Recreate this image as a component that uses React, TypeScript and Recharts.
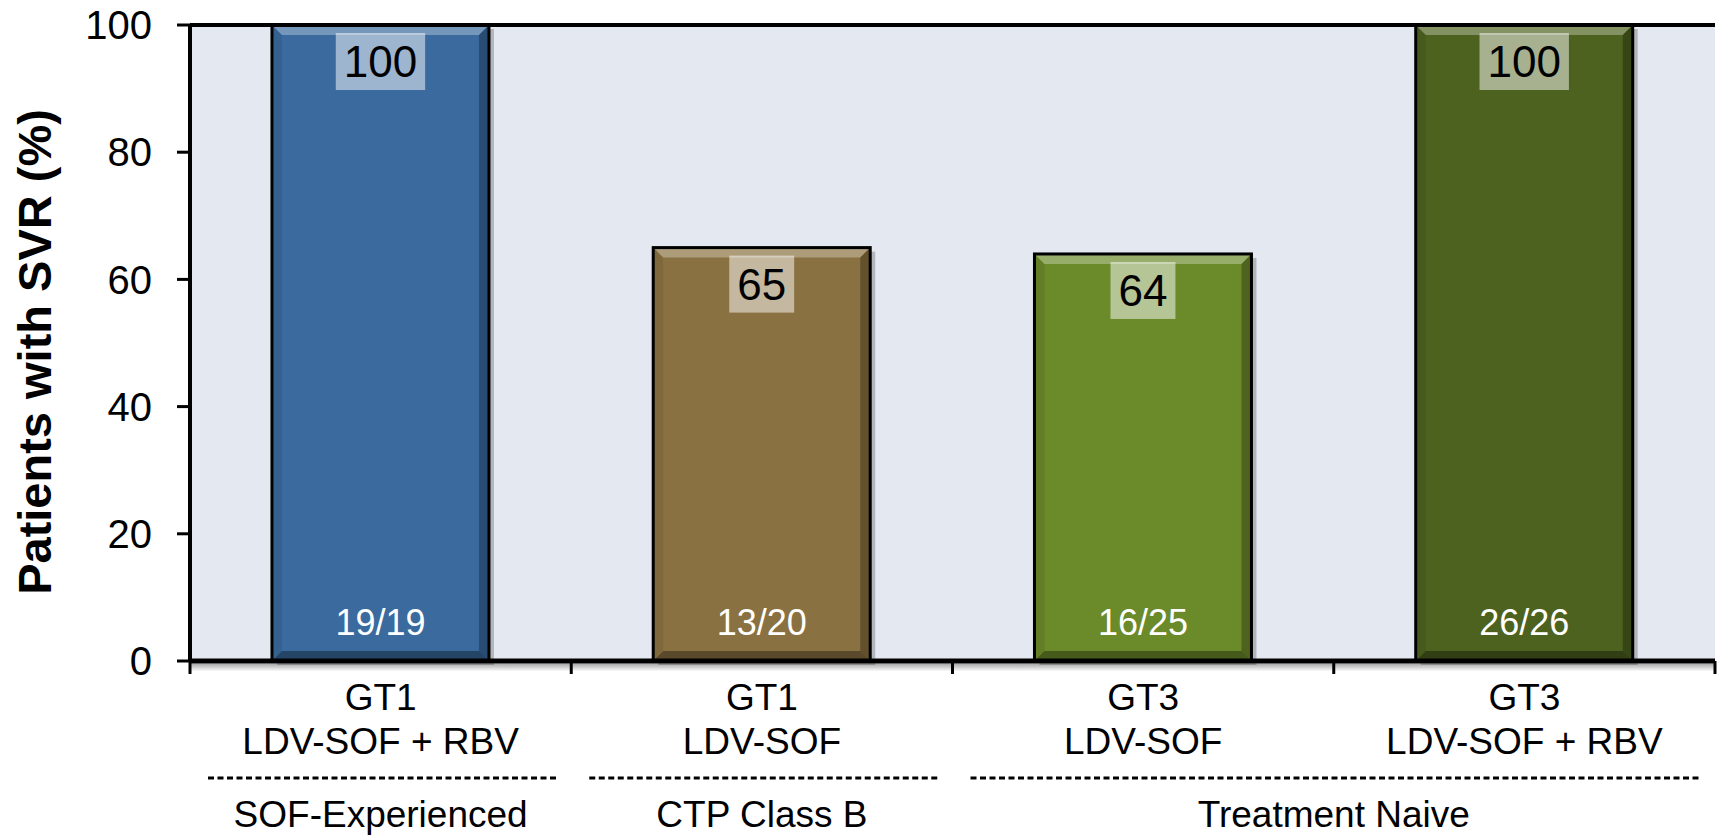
import React from 'react';
import { BarChart, Bar, XAxis, YAxis, CartesianGrid, ReferenceLine, LabelList, Cell } from 'recharts';

// ---- data ----
const genotypes = ['GT1', 'GT1', 'GT3', 'GT3'];
const regimens = ['LDV-SOF + RBV', 'LDV-SOF', 'LDV-SOF', 'LDV-SOF + RBV'];
const svrPercent = [100, 65, 64, 100];
const responders = ['19/19', '13/20', '16/25', '26/26'];
const groupLabels = ['SOF-Experienced', 'CTP Class B', 'Treatment Naive'];
const groupFirstIndex = [0, 1, 2];
const groupSize = [1, 1, 2];
const yTicks = [0, 20, 40, 60, 80, 100];
const yTitle = 'Patients with SVR (%)';

// ---- styles / layout ----
const barColors = ['#3A6A9E', '#8A7141', '#6B8A2A', '#4E6220'];
const W = 1717;
const H = 837;
const M_TOP = 25;
const M_RIGHT = 2;
const Y_W = 190;
const X_H = 176;
const PLOT_L = Y_W;
const PLOT_R = W - M_RIGHT;
const PLOT_B = H - X_H;
const BW = (PLOT_R - PLOT_L) / genotypes.length;
const FONT = '"Liberation Sans", Arial, sans-serif';

const data = genotypes.map((g, i) => ({
  id: i,
  genotype: g,
  regimen: regimens[i],
  svr: svrPercent[i],
  n: responders[i],
}));

const BevelBar = (props: any) => {
  const { x, y, width, height, fill } = props;
  if (width == null || height == null || height <= 0) return null;
  const b = 10;
  const x2 = x + width;
  const y2 = y + height;
  return (
    <g>
      <rect x={x + 5} y={y + 4} width={width} height={height} fill="rgba(0,0,0,0.22)" />
      <rect x={x} y={y} width={width} height={height} fill={fill} />
      <polygon points={`${x},${y} ${x2},${y} ${x2 - b},${y + b} ${x + b},${y + b}`} fill="rgba(255,255,255,0.3)" />
      <polygon points={`${x2},${y} ${x2},${y2} ${x2 - b},${y2 - b} ${x2 - b},${y + b}`} fill="rgba(0,0,0,0.28)" />
      <polygon points={`${x},${y2} ${x2},${y2} ${x2 - b},${y2 - b} ${x + b},${y2 - b}`} fill="rgba(0,0,0,0.35)" />
      <polygon points={`${x},${y} ${x + b},${y + b} ${x + b},${y2 - b} ${x},${y2}`} fill="rgba(0,0,0,0.08)" />
      <rect x={x} y={y} width={width} height={height} fill="none" stroke="#000" strokeWidth={3} />
    </g>
  );
};

const ValueLabel = (props: any) => {
  const { x, y, width, value } = props;
  const s = String(value);
  const fs = 44;
  const tw = s.length * 0.556 * fs;
  const bw = tw + 16;
  const bh = 57;
  const cx = x + width / 2;
  const top = y + 8;
  return (
    <g>
      <rect x={cx - bw / 2} y={top} width={bw} height={bh} fill="rgba(255,255,255,0.5)" />
      <text x={cx} y={top + bh / 2 + fs * 0.358} textAnchor="middle" fontSize={fs} fontFamily={FONT} fill="#000">
        {s}
      </text>
    </g>
  );
};

const CountLabel = (props: any) => {
  const { x, width, value } = props;
  return (
    <text x={x + width / 2} y={PLOT_B - 26} textAnchor="middle" fontSize={36} fontFamily={FONT} fill="#fff">
      {value}
    </text>
  );
};

const CatTick = (props: any) => {
  const { x, index } = props;
  const i = index as number;
  const fs = 37;
  const gi = groupFirstIndex.indexOf(i);
  const isLast = i === genotypes.length - 1;
  return (
    <g>
      {i === 0 && (
        <g>
          <defs>
            <linearGradient id="axShadow" x1="0" y1="0" x2="0" y2="1">
              <stop offset="0%" stopColor="#000" stopOpacity={0.35} />
              <stop offset="100%" stopColor="#000" stopOpacity={0} />
            </linearGradient>
          </defs>
          <rect x={PLOT_L} y={PLOT_B + 2.5} width={PLOT_R - PLOT_L} height={8} fill="url(#axShadow)" />
        </g>
      )}
      <line x1={x - BW / 2} x2={x - BW / 2} y1={PLOT_B} y2={PLOT_B + 13} stroke="#000" strokeWidth={3} />
      {isLast && <line x1={x + BW / 2} x2={x + BW / 2} y1={PLOT_B} y2={PLOT_B + 13} stroke="#000" strokeWidth={3} />}
      <text x={x} y={710} textAnchor="middle" fontSize={fs} fontFamily={FONT} fill="#000">
        {genotypes[i]}
      </text>
      <text x={x} y={754} textAnchor="middle" fontSize={fs} fontFamily={FONT} fill="#000">
        {regimens[i]}
      </text>
      {gi >= 0 && (
        <g>
          <line
            x1={x - BW / 2 + 18}
            x2={x - BW / 2 + groupSize[gi] * BW - 14}
            y1={778}
            y2={778}
            stroke="#000"
            strokeWidth={3}
            strokeDasharray="6 3.5"
          />
          <text
            x={x - BW / 2 + (groupSize[gi] * BW) / 2}
            y={827}
            textAnchor="middle"
            fontSize={fs}
            fontFamily={FONT}
            fill="#000"
          >
            {groupLabels[gi]}
          </text>
        </g>
      )}
    </g>
  );
};

const TITLE_Y = (M_TOP + PLOT_B) / 2 + 9;

const YTitle = () => (
  <text
    x={51}
    y={TITLE_Y}
    transform={`rotate(-90, 51, ${TITLE_Y})`}
    textAnchor="middle"
    fontSize={47}
    fontWeight="bold"
    fontFamily={FONT}
    fill="#000"
  >
    {yTitle}
  </text>
);

export default function App() {
  return (
    <div style={{ position: 'absolute', left: 0, top: 0, width: W, height: H, background: '#fff' }}>
      <BarChart
        width={W}
        height={H}
        data={data}
        margin={{ top: M_TOP, right: M_RIGHT, bottom: 0, left: 0 }}
        barCategoryGap="21.5%"
      >
        <CartesianGrid fill="#E4E9F1" horizontal={false} vertical={false} stroke="none" />
        <XAxis
          dataKey="id"
          height={X_H}
          interval={0}
          tick={<CatTick />}
          tickLine={false}
          axisLine={{ stroke: '#000', strokeWidth: 5 }}
        />
        <YAxis
          domain={[0, 100]}
          ticks={yTicks}
          interval={0}
          width={Y_W}
          tickSize={13}
          tickMargin={25}
          tick={{ fontSize: 40, fill: '#000', fontFamily: FONT }}
          tickLine={{ stroke: '#000', strokeWidth: 3 }}
          axisLine={{ stroke: '#000', strokeWidth: 4 }}
          label={<YTitle />}
        />
        <YAxis
          yAxisId="r"
          orientation="right"
          domain={[0, 100]}
          width={0}
          tick={false}
          tickLine={false}
          axisLine={{ stroke: '#000', strokeWidth: 4 }}
        />
        <ReferenceLine y={100} stroke="#000" strokeWidth={4} />
        <Bar dataKey="svr" isAnimationActive={false} shape={<BevelBar />}>
          {data.map((d, i) => (
            <Cell key={d.id} fill={barColors[i]} />
          ))}
          <LabelList dataKey="svr" content={<ValueLabel />} />
          <LabelList dataKey="n" content={<CountLabel />} />
        </Bar>
      </BarChart>
    </div>
  );
}
